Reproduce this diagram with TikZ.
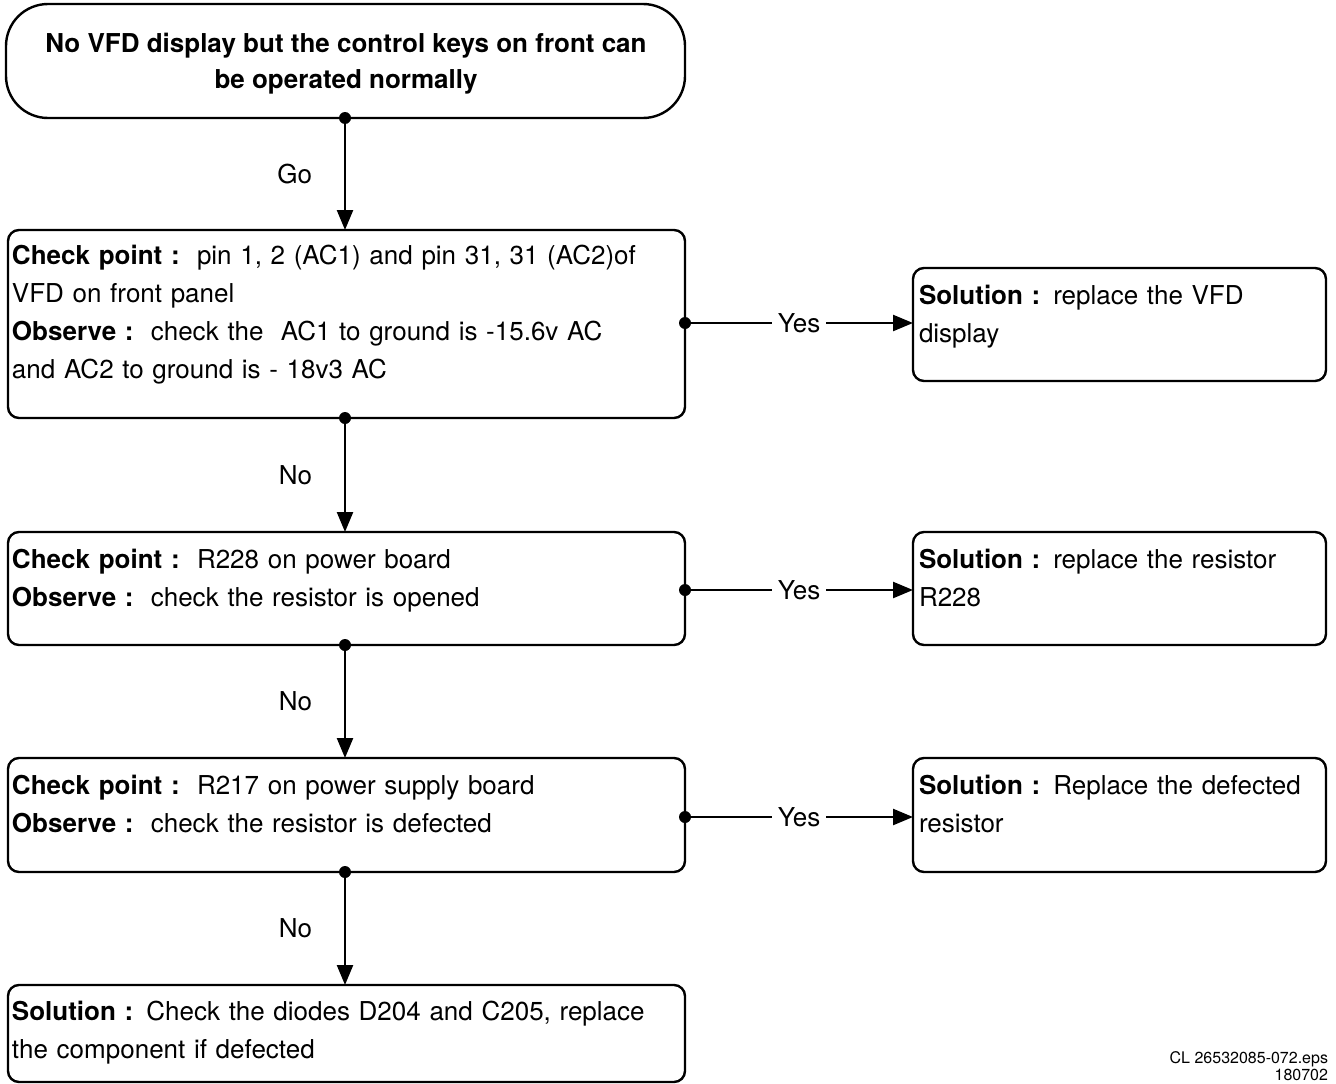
\documentclass[tikz,border=0pt]{standalone}
\usepackage{fontspec}
\setmainfont{TeX Gyre Heros}
\usetikzlibrary{arrows.meta}
\begin{document}
\begin{tikzpicture}[x=1pt,y=-1pt,
  every node/.style={inner sep=0pt, outer sep=0pt},
  boxshape/.style={draw, line width=2.4pt, rounded corners=11pt, minimum width=#1, anchor=north west},
  termshape/.style={draw, line width=2.4pt, rounded corners=42pt, minimum width=679pt, minimum height=114pt},
  boxtext/.style={anchor=base west, align=left, text width=#1, font=\fontsize{26}{38}\selectfont},
  lbl/.style={font=\fontsize{26}{30}\selectfont},
  flow/.style={line width=2.4pt, -{Triangle[length=20pt,width=16pt]}},
  dot/.style={circle, fill=black, minimum size=12pt},
]
\useasboundingbox (0,0) rectangle (1336,1084);

% start terminal
\node[termshape] (start) at (345.5,61) {};
\node[anchor=center, align=center, font=\fontsize{26}{36}\bfseries\selectfont] (starttxt) at (346,64) {No VFD display but the control keys on front can\\be operated normally};

% left boxes
\node[boxshape=677pt, minimum height=188pt] (b1) at (8,230) {};
\node[boxshape=677pt, minimum height=113pt] (b2) at (8,532) {};
\node[boxshape=677pt, minimum height=114pt] (b3) at (8,758) {};
\node[boxshape=677pt, minimum height=97pt] (b4) at (8,985) {};

% right boxes
\node[boxshape=413pt, minimum height=113pt] (r1) at (913,268) {};
\node[boxshape=413pt, minimum height=113pt] (r2) at (913,532) {};
\node[boxshape=413pt, minimum height=114pt] (r3) at (913,758) {};

% texts
\node[boxtext=670pt] (t1) at (12,264) {\textbf{Check point :}\ \ pin 1, 2 (AC1) and pin 31, 31 (AC2)of\\VFD on front panel\\\textbf{Observe :}\ \ check the\ \ AC1 to ground is -15.6v AC\\and AC2 to ground is - 18v3 AC};
\node[boxtext=670pt] (t2) at (12,568) {\textbf{Check point :}\ \ R228 on power board\\\textbf{Observe :}\ \ check the resistor is opened};
\node[boxtext=670pt] (t3) at (12,794) {\textbf{Check point :}\ \ R217 on power supply board\\\textbf{Observe :}\ \ check the resistor is defected};
\node[boxtext=670pt] (t4) at (12,1020) {\textbf{Solution :} Check the diodes D204 and C205, replace\\the component if defected};
\node[boxtext=410pt] (s1) at (919,304) {\textbf{Solution :} replace the VFD\\display};
\node[boxtext=410pt] (s2) at (919,568) {\textbf{Solution :} replace the resistor\\R228};
\node[boxtext=410pt] (s3) at (919,794) {\textbf{Solution :} Replace the defected\\resistor};

% vertical connectors
\coordinate (s0) at (345,118);
\coordinate (b1t) at (345,230);
\coordinate (b1b) at (345,418);
\coordinate (b2t) at (345,532);
\coordinate (b2b) at (345,645);
\coordinate (b3t) at (345,758);
\coordinate (b3b) at (345,872);
\coordinate (b4t) at (345,985);

\draw[flow] (s0) -- node[lbl, left=33pt] {Go} (b1t);
\draw[flow] (b1b) -- node[lbl, left=33pt] {No} (b2t);
\draw[flow] (b2b) -- node[lbl, left=33pt] {No} (b3t);
\draw[flow] (b3b) -- node[lbl, left=33pt] {No} (b4t);
\foreach \p in {s0,b1b,b2b,b3b} \node[dot] at (\p) {};

% horizontal connectors
\coordinate (h1a) at (685,323); \coordinate (h1b) at (913,323);
\coordinate (h2a) at (685,590); \coordinate (h2b) at (913,590);
\coordinate (h3a) at (685,817); \coordinate (h3b) at (913,817);
\draw[flow] (h1a) -- node[lbl, fill=white, inner xsep=6pt, inner ysep=2pt] {Yes} (h1b);
\draw[flow] (h2a) -- node[lbl, fill=white, inner xsep=6pt, inner ysep=2pt] {Yes} (h2b);
\draw[flow] (h3a) -- node[lbl, fill=white, inner xsep=6pt, inner ysep=2pt] {Yes} (h3b);
\foreach \p in {h1a,h2a,h3a} \node[dot] at (\p) {};

% footer
\node[anchor=base east, align=right, font=\fontsize{16}{17}\selectfont] (foot) at (1328,1080) {CL 26532085-072.eps\\180702};
\end{tikzpicture}
\end{document}
